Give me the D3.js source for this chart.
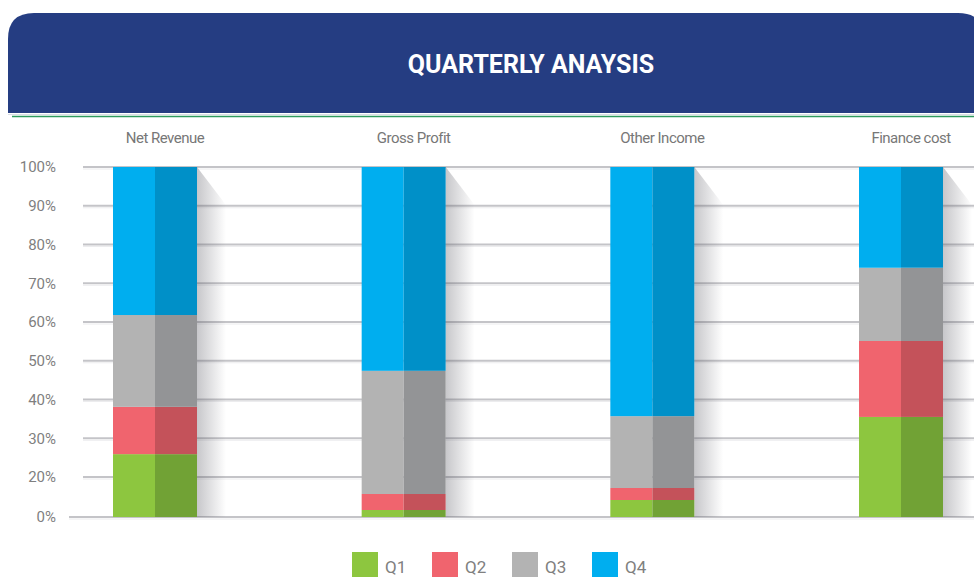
<!DOCTYPE html>
<html>
<head>
<meta charset="utf-8">
<script src="https://cdn.jsdelivr.net/npm/d3@7"></script>
<style>
    body { margin: 0; background: #fff; }
    svg { display: block; font-family: Roboto, "Noto Sans", sans-serif; }
</style>
</head>
<body>
<script>
// chart data
var categories = ["Net Revenue", "Gross Profit", "Other Income", "Finance cost"];
var quarters = ["Q1", "Q2", "Q3", "Q4"];
var q1 = [25.9, 3.5, 8.5, 35.5];
var q2 = [12.2, 8.0, 6.0, 19.6];
var q3 = [23.7, 35.9, 21.2, 18.9];
var q4 = [38.2, 52.6, 64.3, 26.0];
var tickValues = [0, 20, 30, 40, 50, 60, 70, 80, 90, 100];
var tickLabels = ["0%", "20%", "30%", "40%", "50%", "60%", "70%", "80%", "90%", "100%"];

// light half / dark half of each segment
var lightColors = ["#8dc63f", "#f0646e", "#b3b3b3", "#00aeef"];
var darkColors = ["#71a235", "#c4525a", "#939496", "#0090c8"];

var width = 974, height = 577;

var svg = d3.select("body").append("svg")
    .attr("width", width)
    .attr("height", height);

// build rows for the stack
var rows = categories.map(function(c, i) {
    return {key: c, Q1: q1[i], Q2: q2[i], Q3: q3[i], Q4: q4[i]};
});
var series = d3.stack().keys(quarters)(rows);

// the axis in the picture skips 10%, so 0-20 takes one step only
var yScale = d3.scaleLinear().domain([0, 20, 100]).range([517, 477, 167]);
var xScale = d3.scalePoint().domain(categories).range([155, 901]);
var barWidth = 84;

var defs = svg.append("defs");
var grad = defs.append("linearGradient")
    .attr("id", "shadow")
    .attr("x1", "0%").attr("x2", "100%")
    .attr("y1", "0%").attr("y2", "0%");
grad.append("stop").attr("offset", "0%")
    .attr("stop-color", "#50505a").attr("stop-opacity", 0.32);
grad.append("stop").attr("offset", "100%")
    .attr("stop-color", "#50505a").attr("stop-opacity", 0);

// header banner
svg.append("path")
    .attr("d", "M8,113 L8,39 Q8,13 34,13 L958,13 Q984,13 984,39 L984,113 Z")
    .attr("fill", "#253d82");
svg.append("line")
    .attr("x1", 8).attr("x2", width)
    .attr("y1", 114.5).attr("y2", 114.5)
    .attr("stroke", "#d9dde6").attr("stroke-width", 1);
svg.append("line")
    .attr("x1", 12).attr("x2", width)
    .attr("y1", 116.5).attr("y2", 116.5)
    .attr("stroke", "#2f9b5f").attr("stroke-width", 1.5);
svg.append("text")
    .attr("x", 531).attr("y", 73)
    .attr("text-anchor", "middle")
    .attr("fill", "#fff")
    .attr("font-size", "25px")
    .attr("font-weight", "bold")
    .text("QUARTERLY ANAYSIS");

// gridlines
var grid = svg.append("g").attr("class", "grid");
grid.selectAll("line.main")
    .data(tickValues)
    .enter().append("line")
    .attr("class", "main")
    .attr("x1", function(d) { return d === 0 ? 69 : 83; })
    .attr("x2", width)
    .attr("y1", function(d) { return yScale(d); })
    .attr("y2", function(d) { return yScale(d); })
    .attr("stroke", "#c4c4c8")
    .attr("stroke-width", 2);
grid.selectAll("line.soft")
    .data(tickValues)
    .enter().append("line")
    .attr("class", "soft")
    .attr("x1", function(d) { return d === 0 ? 69 : 83; })
    .attr("x2", width)
    .attr("y1", function(d) { return yScale(d) + 2; })
    .attr("y2", function(d) { return yScale(d) + 2; })
    .attr("stroke", "#ececee")
    .attr("stroke-width", 1);

// y axis labels
var yAxis = d3.axisLeft(yScale)
    .tickValues(tickValues)
    .tickFormat(function(d, i) { return tickLabels[i]; })
    .tickSize(0)
    .tickPadding(0);
var yg = svg.append("g")
    .attr("transform", "translate(56,0)")
    .call(yAxis);
yg.select(".domain").remove();
yg.selectAll("text")
    .attr("fill", "#7f7f7f")
    .attr("font-size", "15px")
    .attr("font-family", "Roboto, sans-serif");

// shadows to the right of the bars
svg.append("g").selectAll("path")
    .data(categories)
    .enter().append("path")
    .attr("d", function(d) {
        var x = xScale(d) + barWidth / 2;
        var top = yScale(100), bottom = yScale(0);
        return "M" + x + "," + top + " L" + (x + 29) + "," + (top + 38) +
            " L" + (x + 29) + "," + bottom + " L" + x + "," + bottom + " Z";
    })
    .attr("fill", "url(#shadow)");

// stacked bars, each segment split in a light and a dark half
var layers = svg.append("g").selectAll("g")
    .data(series)
    .enter().append("g");

layers.selectAll("rect.light")
    .data(function(s) { return s.map(function(p) { return {s: s.index, p: p}; }); })
    .enter().append("rect")
    .attr("class", "light")
    .attr("x", function(d) { return xScale(d.p.data.key) - barWidth / 2; })
    .attr("y", function(d) { return yScale(d.p[1]); })
    .attr("width", barWidth / 2)
    .attr("height", function(d) { return yScale(d.p[0]) - yScale(d.p[1]); })
    .attr("fill", function(d) { return lightColors[d.s]; });

layers.selectAll("rect.dark")
    .data(function(s) { return s.map(function(p) { return {s: s.index, p: p}; }); })
    .enter().append("rect")
    .attr("class", "dark")
    .attr("x", function(d) { return xScale(d.p.data.key); })
    .attr("y", function(d) { return yScale(d.p[1]); })
    .attr("width", barWidth / 2)
    .attr("height", function(d) { return yScale(d.p[0]) - yScale(d.p[1]); })
    .attr("fill", function(d) { return darkColors[d.s]; });

// category labels above the bars
svg.append("g").selectAll("text")
    .data(categories)
    .enter().append("text")
    .attr("x", function(d) { return xScale(d) + 10; })
    .attr("y", 143)
    .attr("text-anchor", "middle")
    .attr("fill", "#777")
    .attr("font-size", "15px")
    .attr("letter-spacing", "-0.5px")
    .text(function(d) { return d; });

// legend
var legend = svg.append("g").selectAll("g")
    .data(quarters)
    .enter().append("g")
    .attr("transform", function(d, i) { return "translate(" + (352 + i * 80) + ",552)"; });
legend.append("rect")
    .attr("width", 26).attr("height", 25)
    .attr("fill", function(d, i) { return lightColors[i]; });
legend.append("text")
    .attr("x", 33).attr("y", 21)
    .attr("fill", "#808080")
    .attr("font-size", "17px")
    .text(function(d) { return d; });
</script>
</body>
</html>
